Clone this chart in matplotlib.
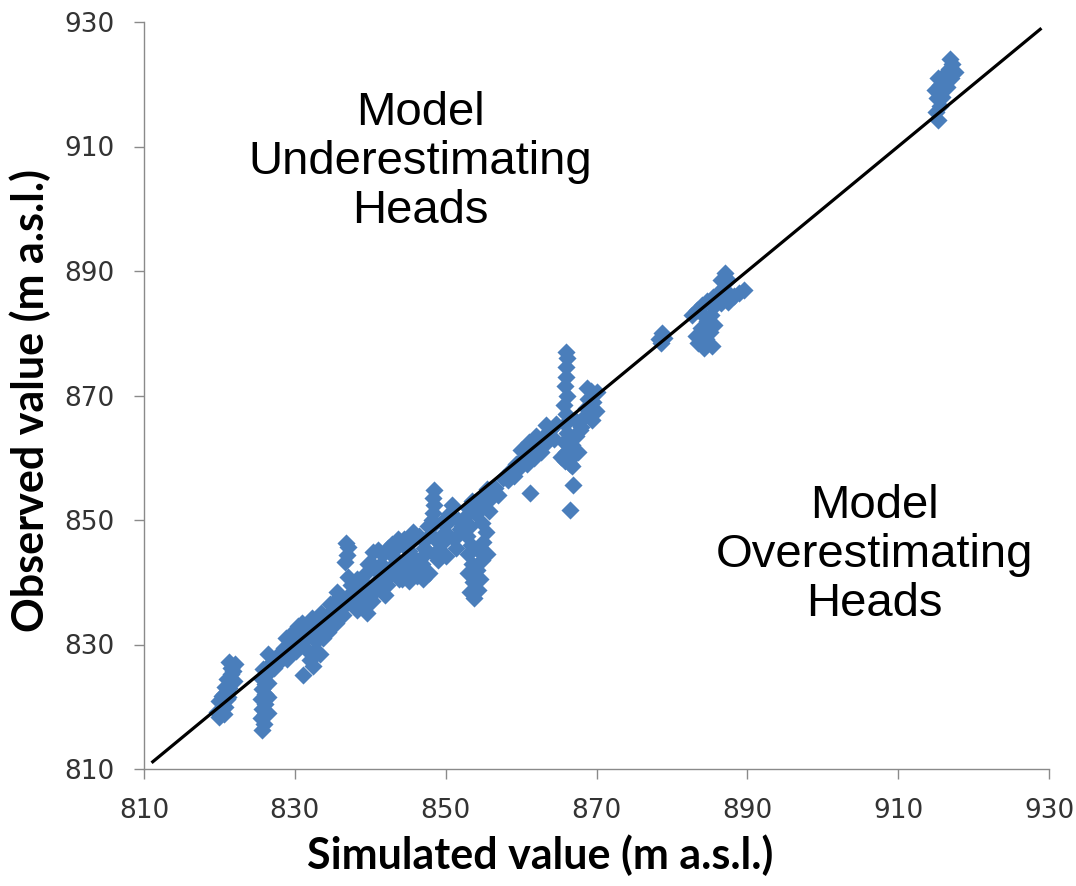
import matplotlib
matplotlib.use("Agg")
import matplotlib.pyplot as plt

# ---- data (simulated vs observed heads, m a.s.l.) ----
sim_values = [
    # cluster near 820-822
    820.0, 820.6, 820.2, 820.8, 820.4, 821.0, 820.6, 821.2, 820.8, 821.4, 821.0, 821.5, 821.6, 821.3, 821.8, 820.3,
    819.7, 819.9, 821.3, 821.9, 821.1, 822.0,
    # cluster near 825-826
    825.6, 825.9, 825.5, 826.1, 825.6, 826.0, 825.5, 826.1, 825.6, 826.0, 825.7, 826.2, 825.8,
    826.4, 826.5, 826.4,
    # band 826-834
    826.5, 826.8, 827.2, 827.5, 827.8, 826.4,
    828.2, 828.5, 828.8, 829.2, 829.5, 829.8, 829.0,
    830.2, 830.5, 830.8, 831.0, 831.3, 831.6, 831.9, 831.1, 830.4,
    832.0, 832.4, 832.5, 832.8, 833.0, 833.2, 833.5, 833.8, 832.3, 834.0, 833.3,
    # band 834-840
    834.4, 834.7, 835.0, 835.3, 835.6, 835.5, 836.0, 834.6,
    836.7, 836.9, 837.1, 836.8, 836.4, 836.8, 837.2, 837.5, 837.0, 837.8, 836.3,
    838.2, 838.5, 838.8, 839.1, 839.4, 839.7, 838.3, 839.6, 839.9,
    # band 840-848
    840.2, 840.5, 840.8, 841.1, 841.4, 841.7, 840.4, 841.0, 841.9, 840.6,
    842.2, 842.5, 842.8, 843.1, 843.4, 843.7, 842.4, 843.8, 842.9,
    844.2, 844.5, 844.8, 845.1, 845.4, 845.7, 844.5, 845.9, 845.2,
    846.2, 846.5, 846.8, 847.1, 847.4, 847.7, 846.4, 847.8, 847.0,
    # extra fill for the thick band
    838.9, 839.3, 840.9, 841.6, 842.7, 843.3, 844.1, 845.0, 846.0, 846.9, 847.5, 835.9, 834.9, 833.9,
    # spike near 848
    848.2, 848.3, 848.4, 848.3, 848.4, 848.1, 848.6, 848.5,
    # band 849-852
    849.0, 849.3, 849.6, 849.9, 850.2, 850.5, 850.8, 851.1, 851.4, 851.6, 849.5, 850.0, 851.9,
    # upper 852-857
    852.2, 852.6, 853.0, 853.5, 854.0, 854.5, 855.0, 855.5, 856.0, 856.5, 855.8, 856.9, 853.2, 854.8,
    # lower cluster 852-856
    852.8, 853.3, 852.9, 853.5, 853.0, 853.6, 853.2, 853.8, 854.3, 854.6, 854.2, 854.8, 854.4, 855.0, 855.3, 855.5,
    # 857-865
    857.6, 858.2, 858.6, 859.0, 859.3,
    859.8, 860.3, 860.8, 861.2, 861.7, 862.2, 862.6, 863.0, 863.5, 863.9, 864.3, 864.6, 862.0, 861.0, 860.0, 863.3,
    861.2,
    # spike near 866
    865.8, 866.0, 865.7, 866.1, 865.8, 866.0, 865.7, 866.1, 865.8, 866.0, 865.9, 866.1, 866.0,
    866.5, 867.0, 866.7, 867.3, 867.6, 866.8, 867.8, 865.3, 867.2,
    866.9, 866.5,
    # 868-870
    868.0, 868.3, 868.6, 868.9, 869.3, 869.6, 869.9, 869.4, 868.8, 870.0,
    # near 879
    878.3, 878.7, 879.0, 878.6,
    # 882-890
    882.6, 883.3, 884.0, 884.7, 885.4, 886.1, 886.8, 887.5, 888.2, 888.9, 889.5, 886.5, 887.0, 887.5,
    885.5, 886.5, 887.5, 884.3, 885.2,
    883.2, 883.8, 884.5, 885.0, 884.2, 885.3, 883.5, 885.6, 884.6,
    # 914-918
    915.3, 915.0, 915.5, 915.2, 914.9, 915.6, 915.3, 916.0, 916.3, 916.8, 917.2, 916.9, 917.5, 916.5, 915.8, 917.0,
]

obs_values = [
    818.4, 818.8, 819.6, 820.0, 820.8, 821.2, 822.0, 822.4, 823.2, 823.6, 824.4, 825.2, 826.2, 827.2, 825.8, 821.8,
    819.2, 821.0, 823.0, 824.2, 821.5, 826.8,
    816.2, 817.2, 818.2, 818.8, 819.6, 820.4, 821.2, 822.0, 822.8, 823.6, 824.4, 825.2, 826.0,
    819.0, 821.5, 823.8,
    825.5, 827.0, 826.2, 828.0, 827.0, 828.4,
    828.0, 829.5, 831.0, 828.8, 830.5, 832.0, 827.6,
    829.0, 830.5, 832.0, 833.5, 829.5, 831.0, 832.8, 825.1, 833.0,
    827.5, 826.6, 829.0, 830.5, 832.0, 833.5, 835.0, 831.0, 834.2, 833.0, 828.5,
    832.0, 834.0, 835.5, 837.0, 838.5, 833.5, 835.0, 836.5,
    843.2, 844.4, 845.6, 846.3, 834.8, 836.5, 838.0, 839.5, 840.8, 836.5, 837.5,
    835.5, 837.0, 838.5, 840.0, 841.5, 843.0, 840.5, 835.0, 837.5,
    837.0, 838.5, 840.0, 841.5, 843.0, 844.5, 844.8, 845.2, 838.0, 842.5,
    839.5, 841.0, 842.5, 844.0, 845.5, 847.0, 845.5, 840.5, 846.2,
    840.5, 842.0, 843.5, 845.0, 846.5, 848.0, 847.0, 841.5, 840.2,
    841.0, 842.5, 844.0, 845.5, 847.0, 849.0, 847.5, 841.5, 840.6,
    836.2, 839.0, 839.0, 840.5, 841.5, 842.0, 843.0, 842.8, 843.5, 843.0, 845.0, 836.8, 834.0, 832.5,
    850.0, 851.2, 852.4, 853.6, 854.8, 848.8, 847.0, 844.5,
    843.5, 845.0, 846.5, 848.0, 849.5, 851.0, 852.4, 847.0, 845.5, 850.0, 849.6, 844.2, 848.5,
    849.0, 850.5, 852.0, 853.0, 851.0, 852.5, 854.0, 855.0, 853.5, 855.2, 851.5, 854.0, 849.0, 849.5,
    847.5, 846.0, 844.5, 843.0, 841.5, 840.0, 838.5, 837.4, 838.8, 840.5, 842.0, 843.5, 845.0, 846.5, 848.0, 844.5,
    856.8, 856.5, 858.0, 857.0, 859.0,
    858.5, 860.0, 859.0, 861.0, 860.0, 862.0, 861.0, 863.5, 862.5, 864.5, 863.0, 865.5, 863.5, 862.5, 861.2, 865.3,
    854.3,
    859.5, 861.0, 862.5, 864.0, 865.5, 867.0, 868.5, 870.0, 871.5, 873.0, 874.5, 876.0, 877.0,
    859.0, 860.5, 862.0, 863.5, 861.0, 858.6, 864.5, 860.2, 866.0,
    855.6, 851.6,
    865.0, 866.5, 868.0, 869.5, 870.8, 869.0, 867.5, 866.0, 871.2, 870.5,
    879.0, 880.0, 879.2, 878.4,
    883.0, 883.8, 884.5, 885.2, 885.8, 886.4, 887.0, 886.5, 886.0, 886.5, 887.0, 888.5, 889.6, 888.5,
    884.2, 884.8, 885.0, 882.8, 883.0,
    879.5, 880.8, 879.0, 880.2, 877.6, 878.0, 878.5, 881.4, 882.0,
    914.3, 915.5, 916.5, 917.8, 919.0, 919.8, 921.0, 920.5, 921.8, 922.5, 923.3, 924.0, 922.0, 919.5, 918.0, 921.0,
]

line_x = [811.0, 929.0]
line_y = [811.0, 929.0]

ticks = [810, 830, 850, 870, 890, 910, 930]

x_title = "Simulated value (m a.s.l.)"
y_title = "Observed value (m a.s.l.)"
under_text = "Model\nUnderestimating\nHeads"
over_text = "Model\nOverestimating\nHeads"

# ---- figure ----
fig = plt.figure(figsize=(10.76, 8.86), dpi=100)
ax = fig.add_axes([144 / 1076, 1 - 769 / 886, (1049 - 144) / 1076, (769 - 22) / 886])

ax.scatter(sim_values, obs_values, marker="D", s=85, color="#4A7EBB", linewidths=0, zorder=2)
ax.plot(line_x, line_y, color="black", linewidth=2.3, zorder=3, solid_capstyle="butt")

ax.set_xlim(810, 930)
ax.set_ylim(810, 930)
ax.set_xticks(ticks)
ax.set_yticks(ticks)
ax.set_xticklabels([str(t) for t in ticks])
ax.set_yticklabels([str(t) for t in ticks])

for side in ["top", "right"]:
    ax.spines[side].set_visible(False)
for side in ["left", "bottom"]:
    ax.spines[side].set_color("#8a8a8a")
    ax.spines[side].set_linewidth(1.0)

ax.tick_params(axis="both", direction="out", color="#8a8a8a", width=1.0, length=7,
               labelsize=19, labelcolor="#333333")
ax.tick_params(axis="y", pad=14)
ax.tick_params(axis="x", pad=14)
for lab in ax.get_xticklabels() + ax.get_yticklabels():
    lab.set_family("DejaVu Sans")

ax.text(846.6, 907.5, under_text, ha="center", va="center", fontsize=34,
        family="Liberation Sans", linespacing=1.15, color="black")
ax.text(906.9, 844.4, over_text, ha="center", va="center", fontsize=34,
        family="Liberation Sans", linespacing=1.15, color="black")

fig.text(540 / 1076, 1 - 855 / 886, x_title, ha="center", va="center",
         fontsize=31, fontweight="bold", family="Lato")
fig.text(30 / 1076, 1 - 400 / 886, y_title, ha="center", va="center", rotation=90,
         fontsize=31, fontweight="bold", family="Lato")

fig.savefig("out.png", dpi=100)
